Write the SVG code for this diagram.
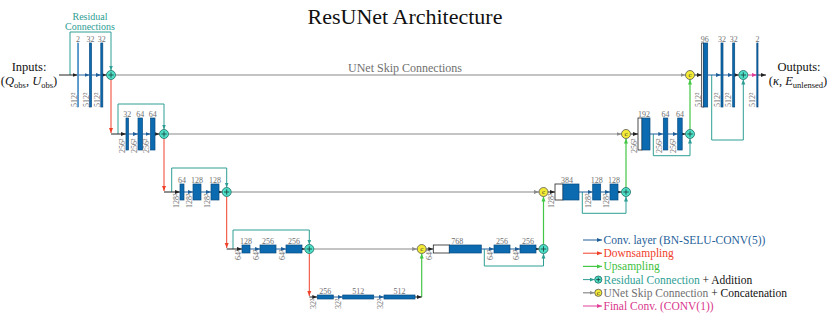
<svg xmlns="http://www.w3.org/2000/svg" width="830" height="314" viewBox="0 0 830 314">
<defs>
<style>
.blk{fill:#0b6ab0;stroke:#0a4a80;stroke-width:0.7}
.thin{fill:#2f7fc0;stroke:#3a86c4;stroke-width:0.6}
.wht{fill:#fff;stroke:#222;stroke-width:0.8}
.num{font-family:'Liberation Serif',serif;font-size:8px;fill:#707070;text-anchor:middle}
.res{font-family:'Liberation Serif',serif;font-size:8px;fill:#707070}
.lk{stroke:#222;stroke-width:1;fill:none;marker-end:url(#aK)}
.lb{stroke:#1f5f99;stroke-width:1;fill:none;marker-end:url(#aB)}
.lg{stroke:#8a8a8a;stroke-width:1.2;fill:none;marker-end:url(#aG)}
.lr{stroke:#f0402a;stroke-width:1;fill:none;marker-end:url(#aR)}
.lu{stroke:#44c744;stroke-width:1.2;fill:none;marker-end:url(#aU)}
.lt{stroke:#2e9e94;stroke-width:1;fill:none;marker-end:url(#aT)}
.lp{stroke:#e0409a;stroke-width:1;fill:none;marker-end:url(#aP)}
.add{fill:#4fe0c8;stroke:#1d6b62;stroke-width:0.8}
.pl{stroke:#1d4a45;stroke-width:0.9}
.cat{fill:#f3ea35;stroke:#555;stroke-width:0.8}
.ct{font-family:'Liberation Serif',serif;font-size:7px;fill:#333;text-anchor:middle}
.leg{font-family:'Liberation Serif',serif;font-size:11.5px}
.io{font-family:'Liberation Serif',serif;font-size:12.5px;fill:#111;text-anchor:middle}
.lbl{font-family:'Liberation Serif',serif;text-anchor:middle}
</style>
<marker id="aK" viewBox="0 0 10 10" refX="10" refY="5" markerWidth="5" markerHeight="5" markerUnits="userSpaceOnUse" orient="auto"><path d="M0,1 L10,5 L0,9 z" fill="#222"/></marker>
<marker id="aB" viewBox="0 0 10 10" refX="10" refY="5" markerWidth="5" markerHeight="5" markerUnits="userSpaceOnUse" orient="auto"><path d="M0,1 L10,5 L0,9 z" fill="#1f5f99"/></marker>
<marker id="aG" viewBox="0 0 10 10" refX="10" refY="5" markerWidth="5" markerHeight="5" markerUnits="userSpaceOnUse" orient="auto"><path d="M0,1 L10,5 L0,9 z" fill="#8a8a8a"/></marker>
<marker id="aR" viewBox="0 0 10 10" refX="10" refY="5" markerWidth="5" markerHeight="5" markerUnits="userSpaceOnUse" orient="auto"><path d="M0,1 L10,5 L0,9 z" fill="#f0402a"/></marker>
<marker id="aU" viewBox="0 0 10 10" refX="10" refY="5" markerWidth="5" markerHeight="5" markerUnits="userSpaceOnUse" orient="auto"><path d="M0,1 L10,5 L0,9 z" fill="#44c744"/></marker>
<marker id="aT" viewBox="0 0 10 10" refX="10" refY="5" markerWidth="5" markerHeight="5" markerUnits="userSpaceOnUse" orient="auto"><path d="M0,1 L10,5 L0,9 z" fill="#2e9e94"/></marker>
<marker id="aP" viewBox="0 0 10 10" refX="10" refY="5" markerWidth="5" markerHeight="5" markerUnits="userSpaceOnUse" orient="auto"><path d="M0,1 L10,5 L0,9 z" fill="#e0409a"/></marker>
</defs>
<rect width="830" height="314" fill="#fff"/>

<text class="lbl" x="405" y="24" font-size="22" fill="#111">ResUNet Architecture</text>
<text class="lbl" x="90" y="20" font-size="10" fill="#2e9e94">Residual</text>
<text class="lbl" x="90" y="30" font-size="10" fill="#2e9e94">Connections</text>
<text class="lbl" x="405" y="72" font-size="12" fill="#707070">UNet Skip Connections</text>

<g id="inputs">
<text class="io" x="29" y="71">Inputs:</text>
<text class="io" x="29" y="85">(<tspan font-style="italic">Q</tspan><tspan font-size="8.5" dy="2.5">obs</tspan><tspan dy="-2.5">, </tspan><tspan font-style="italic">U</tspan><tspan font-size="8.5" dy="2.5">obs</tspan><tspan dy="-2.5">)</tspan></text>
</g>
<g id="outputs">
<text class="io" x="799" y="71">Outputs:</text>
<text class="io" x="798" y="85">(<tspan font-style="italic">κ</tspan>, <tspan font-style="italic">E</tspan><tspan font-size="8.5" dy="2.5">unlensed</tspan><tspan dy="-2.5">)</tspan></text>
</g>

<g id="connectors">
<path class="lg" d="M115.5,75 H685.5"/>
<path class="lg" d="M168.5,134 H621.5"/>
<path class="lg" d="M231.2,192 H539"/>
<path class="lg" d="M313.8,249 H417.2"/>
<path class="lt" d="M70,75 V32 H111 V70.5"/>
<path class="lt" d="M118,134 V104 H164 V129.5"/>
<path class="lt" d="M171.7,192 V168 H226.7 V187.5"/>
<path class="lt" d="M233,249 V230 H309.3 V244.5"/>
<path class="lt" d="M484.3,249 V266 H543.5 V253.5"/>
<path class="lt" d="M582.3,192 V213.3 H626 V196.5"/>
<path class="lt" d="M653.3,134 V155.7 H690 V138.5"/>
<path class="lt" d="M711.7,75 V140 H743.3 V79.5"/>
<path class="lr" d="M111,79.5 V133"/>
<path class="lr" d="M164,138.5 V191"/>
<path class="lr" d="M226.7,196.5 V248"/>
<path class="lr" d="M309.3,253.5 V296"/>
<path class="lu" d="M421.7,297 V253.5"/>
<path class="lu" d="M543.5,244.5 V196.5"/>
<path class="lu" d="M626,187.5 V138.5"/>
<path class="lu" d="M690,129.5 V79.5"/>
<path class="lk" d="M59,75 H77.6"/>
<path class="lb" d="M78.6,75 H89.5"/>
<path class="lb" d="M91.5,75 H100.8"/>
<path class="lk" d="M102.8,75 H106.5"/>
<path class="lk" d="M111,134 H126"/>
<path class="lb" d="M128.5,134 H138"/>
<path class="lb" d="M142.5,134 H150.5"/>
<path class="lk" d="M155,134 H159.5"/>
<path class="lk" d="M164,192 H180"/>
<path class="lb" d="M184,192 H193"/>
<path class="lb" d="M201,192 H211"/>
<path class="lk" d="M219,192 H222.2"/>
<path class="lk" d="M226.7,249 H242"/>
<path class="lb" d="M250,249 H260"/>
<path class="lb" d="M276,249 H286"/>
<path class="lk" d="M302,249 H304.8"/>
<path class="lk" d="M309.3,297 H317.3"/>
<path class="lb" d="M333.3,297 H342.7"/>
<path class="lb" d="M373.7,297 H384"/>
<path class="lk" d="M415,297 H421.7"/>
<path class="lk" d="M426.2,249 H433.3"/>
<path class="lb" d="M481.3,249 H494"/>
<path class="lb" d="M510,249 H520"/>
<path class="lk" d="M536,249 H539"/>
<path class="lk" d="M548,192 H555"/>
<path class="lb" d="M579,192 H592.7"/>
<path class="lb" d="M600.7,192 H610"/>
<path class="lk" d="M618,192 H621.5"/>
<path class="lk" d="M630.5,134 H638"/>
<path class="lb" d="M650,134 H663.3"/>
<path class="lb" d="M667.8,134 H677.7"/>
<path class="lk" d="M682.2,134 H685.5"/>
<path class="lk" d="M694.5,75 H701.7"/>
<path class="lb" d="M707.7,75 H721"/>
<path class="lb" d="M723,75 H732.7"/>
<path class="lk" d="M734.7,75 H738.8"/>
<path class="lp" d="M747.8,75 H756.8"/>
<path class="lk" d="M758,75 H766"/>
</g>

<g id="e1a"><rect class="thin" x="77.6" y="43" width="1" height="64"/><text class="num" x="78.1" y="41.5">2</text><text class="res" transform="translate(77,107) rotate(-90)">512²</text></g>
<g id="e1b"><rect class="blk" x="89.5" y="43" width="2" height="64"/><text class="num" x="90.5" y="41.5">32</text><text class="res" transform="translate(88.5,107) rotate(-90)">512²</text></g>
<g id="e1c"><rect class="blk" x="100.8" y="43" width="2" height="64"/><text class="num" x="101.8" y="41.5">32</text><text class="res" transform="translate(99.8,107) rotate(-90)">512²</text></g>
<g id="add1e"><circle class="add" cx="111" cy="75" r="4.5"/><path class="pl" d="M108.3,75 H113.7 M111,72.3 V77.7"/></g>

<g id="e2a"><rect class="blk" x="126" y="118" width="2.5" height="32"/><text class="num" x="127.2" y="116.5">32</text><text class="res" transform="translate(124.5,153) rotate(-90)">256²</text></g>
<g id="e2b"><rect class="blk" x="138" y="118" width="4.5" height="32"/><text class="num" x="140.2" y="116.5">64</text><text class="res" transform="translate(136.5,153) rotate(-90)">256²</text></g>
<g id="e2c"><rect class="blk" x="150.5" y="118" width="4.5" height="32"/><text class="num" x="152.7" y="116.5">64</text><text class="res" transform="translate(149,153) rotate(-90)">256²</text></g>
<g id="add2e"><circle class="add" cx="164" cy="134" r="4.5"/><path class="pl" d="M161.3,134 H166.7 M164,131.3 V136.7"/></g>

<g id="e3a"><rect class="blk" x="180" y="184" width="4" height="16"/><text class="num" x="182" y="182.5">64</text><text class="res" transform="translate(178.5,208) rotate(-90)">128²</text></g>
<g id="e3b"><rect class="blk" x="193" y="184" width="8" height="16"/><text class="num" x="197" y="182.5">128</text><text class="res" transform="translate(191.5,208) rotate(-90)">128²</text></g>
<g id="e3c"><rect class="blk" x="211" y="184" width="8" height="16"/><text class="num" x="215" y="182.5">128</text><text class="res" transform="translate(209.5,208) rotate(-90)">128²</text></g>
<g id="add3e"><circle class="add" cx="226.7" cy="192" r="4.5"/><path class="pl" d="M224,192 H229.4 M226.7,189.3 V194.7"/></g>

<g id="e4a"><rect class="blk" x="242" y="245" width="8" height="8"/><text class="num" x="246" y="243.5">128</text><text class="res" transform="translate(240.5,260) rotate(-90)">64²</text></g>
<g id="e4b"><rect class="blk" x="260" y="245" width="16" height="8"/><text class="num" x="268" y="243.5">256</text><text class="res" transform="translate(258.5,260) rotate(-90)">64²</text></g>
<g id="e4c"><rect class="blk" x="286" y="245" width="16" height="8"/><text class="num" x="294" y="243.5">256</text><text class="res" transform="translate(284.5,260) rotate(-90)">64²</text></g>
<g id="add4e"><circle class="add" cx="309.3" cy="249" r="4.5"/><path class="pl" d="M306.6,249 H312 M309.3,246.3 V251.7"/></g>

<g id="b5a"><rect class="blk" x="317.3" y="295" width="16" height="4"/><text class="num" x="325.3" y="293.5">256</text><text class="res" transform="translate(315.8,309) rotate(-90)">32²</text></g>
<g id="b5b"><rect class="blk" x="342.7" y="295" width="31" height="4"/><text class="num" x="358.2" y="293.5">512</text><text class="res" transform="translate(341.2,309) rotate(-90)">32²</text></g>
<g id="b5c"><rect class="blk" x="384" y="295" width="31" height="4"/><text class="num" x="399.5" y="293.5">512</text><text class="res" transform="translate(382.5,309) rotate(-90)">32²</text></g>

<g id="cat4"><circle class="cat" cx="421.7" cy="249" r="4.5"/><text class="ct" x="421.7" y="251.3">c</text></g>
<g id="d4a"><rect class="wht" x="433.3" y="245" width="16" height="8"/><rect class="blk" x="449.3" y="245" width="32" height="8"/><text class="num" x="457.3" y="243.5">768</text><text class="res" transform="translate(431.8,260) rotate(-90)">64²</text></g>
<g id="d4b"><rect class="blk" x="494" y="245" width="16" height="8"/><text class="num" x="502" y="243.5">256</text><text class="res" transform="translate(492.5,260) rotate(-90)">64²</text></g>
<g id="d4c"><rect class="blk" x="520" y="245" width="16" height="8"/><text class="num" x="528" y="243.5">256</text><text class="res" transform="translate(518.5,260) rotate(-90)">64²</text></g>
<g id="add4d"><circle class="add" cx="543.5" cy="249" r="4.5"/><path class="pl" d="M540.8,249 H546.2 M543.5,246.3 V251.7"/></g>

<g id="cat3"><circle class="cat" cx="543.5" cy="192" r="4.5"/><text class="ct" x="543.5" y="194.3">c</text></g>
<g id="d3a"><rect class="wht" x="555" y="184" width="8" height="16"/><rect class="blk" x="563" y="184" width="16" height="16"/><text class="num" x="567" y="182.5">384</text><text class="res" transform="translate(553.5,208) rotate(-90)">128²</text></g>
<g id="d3b"><rect class="blk" x="592.7" y="184" width="8" height="16"/><text class="num" x="596.7" y="182.5">128</text><text class="res" transform="translate(591.2,208) rotate(-90)">128²</text></g>
<g id="d3c"><rect class="blk" x="610" y="184" width="8" height="16"/><text class="num" x="614" y="182.5">128</text><text class="res" transform="translate(608.5,208) rotate(-90)">128²</text></g>
<g id="add3d"><circle class="add" cx="626" cy="192" r="4.5"/><path class="pl" d="M623.3,192 H628.7 M626,189.3 V194.7"/></g>

<g id="cat2"><circle class="cat" cx="626" cy="134" r="4.5"/><text class="ct" x="626" y="136.3">c</text></g>
<g id="d2a"><rect class="wht" x="638" y="118" width="4" height="32"/><rect class="blk" x="642" y="118" width="8" height="32"/><text class="num" x="644" y="116.5">192</text><text class="res" transform="translate(636.5,153) rotate(-90)">256²</text></g>
<g id="d2b"><rect class="blk" x="663.3" y="118" width="4.5" height="32"/><text class="num" x="665.5" y="116.5">64</text><text class="res" transform="translate(661.8,153) rotate(-90)">256²</text></g>
<g id="d2c"><rect class="blk" x="677.7" y="118" width="4.5" height="32"/><text class="num" x="680" y="116.5">64</text><text class="res" transform="translate(676.2,153) rotate(-90)">256²</text></g>
<g id="add2d"><circle class="add" cx="690" cy="134" r="4.5"/><path class="pl" d="M687.3,134 H692.7 M690,131.3 V136.7"/></g>

<g id="cat1"><circle class="cat" cx="690" cy="75" r="4.5"/><text class="ct" x="690" y="77.3">c</text></g>
<g id="d1a"><rect class="wht" x="701.7" y="43" width="2" height="64"/><rect class="blk" x="703.7" y="43" width="4" height="64"/><text class="num" x="704.7" y="41.5">96</text><text class="res" transform="translate(700.5,107) rotate(-90)">512²</text></g>
<g id="d1b"><rect class="blk" x="721" y="43" width="2" height="64"/><text class="num" x="722" y="41.5">32</text><text class="res" transform="translate(719.5,107) rotate(-90)">512²</text></g>
<g id="d1c"><rect class="blk" x="732.7" y="43" width="2" height="64"/><text class="num" x="733.7" y="41.5">32</text><text class="res" transform="translate(731.2,107) rotate(-90)">512²</text></g>
<g id="add1d"><circle class="add" cx="743.3" cy="75" r="4.5"/><path class="pl" d="M740.6,75 H746 M743.3,72.3 V77.7"/></g>
<g id="final"><rect class="blk" x="756.8" y="43" width="1.2" height="64"/><text class="num" x="757.4" y="41.5">2</text><text class="res" transform="translate(755.3,107) rotate(-90)">512²</text></g>

<g id="legend">
<path class="lb" d="M583,240 H602"/>
<text class="leg" x="603.5" y="244" fill="#1f5f99">Conv. layer (BN-SELU-CONV(5))</text>
<path class="lr" d="M583,253.2 H602"/>
<text class="leg" x="603.5" y="257.2" fill="#f0402a">Downsampling</text>
<path class="lu" d="M583,266.4 H602"/>
<text class="leg" x="603.5" y="270.4" fill="#3cbf3c">Upsampling</text>
<path class="lt" d="M583,279.6 H594.5"/>
<circle class="add" cx="598.3" cy="279.6" r="3.6"/><path class="pl" d="M596.2,279.6 H600.4 M598.3,277.5 V281.7"/>
<text class="leg" x="603.5" y="283.6"><tspan fill="#2e9e94">Residual Connection</tspan><tspan fill="#111"> + Addition</tspan></text>
<path class="lg" d="M583,292.8 H594.5"/>
<circle class="cat" cx="598.3" cy="292.8" r="3.6"/><text class="ct" x="598.3" y="294.8" font-size="6">c</text>
<text class="leg" x="603.5" y="296.8"><tspan fill="#707070">UNet Skip Connection</tspan><tspan fill="#111"> + Concatenation</tspan></text>
<path class="lp" d="M583,306 H602"/>
<text class="leg" x="603.5" y="310" fill="#d9368b">Final Conv. (CONV(1))</text>
</g>
</svg>
